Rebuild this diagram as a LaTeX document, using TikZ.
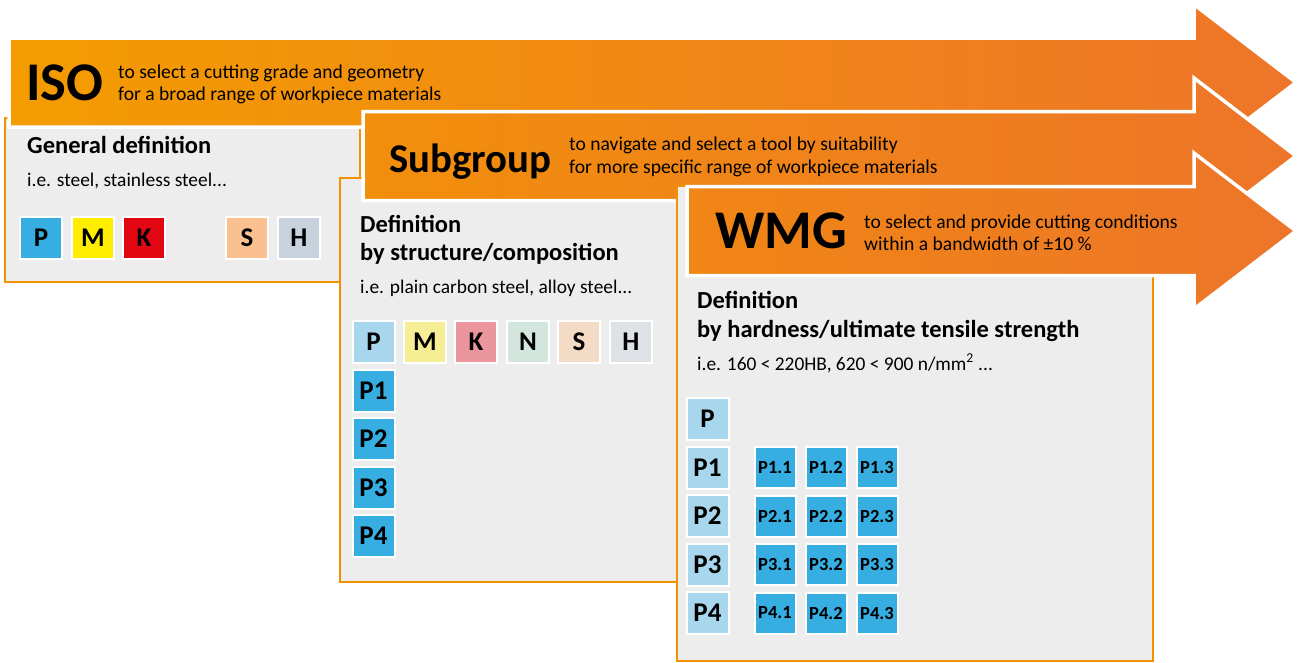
\documentclass[tikz,border=0pt]{standalone}
\usepackage{fontspec}
\setmainfont{Carlito}
\definecolor{orA}{RGB}{244,156,0}
\definecolor{orB}{RGB}{237,117,41}
\definecolor{orA2}{RGB}{242,143,12}
\definecolor{orA3}{RGB}{240,134,20}
\definecolor{panelorange}{RGB}{243,146,0}
\definecolor{panelgray}{RGB}{237,237,237}
\definecolor{pblue}{RGB}{54,174,226}
\definecolor{myellow}{RGB}{255,237,0}
\definecolor{kred}{RGB}{227,6,19}
\definecolor{speach}{RGB}{250,192,144}
\definecolor{hgray}{RGB}{200,210,220}
\definecolor{paleP}{RGB}{168,214,236}
\definecolor{paleM}{RGB}{246,238,148}
\definecolor{paleK}{RGB}{234,150,156}
\definecolor{paleN}{RGB}{211,230,221}
\definecolor{paleS}{RGB}{244,219,198}
\definecolor{paleH}{RGB}{222,225,230}
\begin{document}
\begin{tikzpicture}[x=1pt,y=-1pt,
  panel/.style={draw=panelorange, line width=2pt, fill=panelgray},
  arrowshape/.style={draw=white, line width=3.5pt, line join=miter},
  tile/.style={draw=white, line width=2pt, minimum size=42pt, inner sep=0pt, font=\bfseries\fontsize{27}{27}\selectfont},
  subtile/.style={tile, minimum size=41pt, fill=pblue, font=\bfseries\fontsize{18.5}{18.5}\selectfont},
  bigtitle/.style={anchor=base west, inner sep=0pt, font=\bfseries\fontsize{54.5}{54.5}\selectfont},
  midtitle/.style={anchor=base west, inner sep=0pt, font=\bfseries\fontsize{40.8}{40.8}\selectfont},
  subtext/.style={anchor=base west, inner sep=0pt, font=\fontsize{19.6}{19.6}\selectfont},
  headtext/.style={anchor=base west, inner sep=0pt, font=\bfseries\fontsize{24.5}{24.5}\selectfont},
  notetext/.style={anchor=base west, inner sep=0pt, font=\fontsize{19.4}{19.4}\selectfont}
]
\useasboundingbox (0,0) rectangle (1299,662);

% ---------- panel 1 and ISO arrow
\draw[panel] (5,118) rectangle (360,282);
\shadedraw[arrowshape, left color=orA, right color=orB]
  (9,38) -- (1194,38) -- (1194,4.5) -- (1296,82.5) -- (1194,160.5) -- (1194,127) -- (9,127) -- cycle;
\node[bigtitle] (iso) at (26,100) {ISO};
\node[subtext] (iso1) at (118,78) {to select a cutting grade and geometry};
\node[subtext] (iso2) at (118,100) {for a broad range of workpiece materials};
\node[headtext] (gen) at (27,153) {General definition};
\node[notetext] (gen2) at (27,186) {i.e. steel, stainless steel...};
\node[tile, fill=pblue] (iP) at (41,238) {P};
\node[tile, fill=myellow] (iM) at (93,238) {M};
\node[tile, fill=kred] (iK) at (144,238) {K};
\node[tile, fill=speach] (iS) at (247,238) {S};
\node[tile, fill=hgray] (iH) at (299,238) {H};

% ---------- panel 2 and Subgroup arrow
\draw[panel] (340,178) rectangle (690,582);
\shadedraw[arrowshape, left color=orA2, right color=orB]
  (363,111.5) -- (1194,111.5) -- (1194,78) -- (1296,156) -- (1194,234) -- (1194,200.5) -- (363,200.5) -- cycle;
\node[midtitle] (sg) at (389,172) {Subgroup};
\node[subtext] (sg1) at (569,150) {to navigate and select a tool by suitability};
\node[subtext] (sg2) at (569,173) {for more specific range of workpiece materials};
\node[headtext] (d2a) at (360,232) {Definition};
\node[headtext] (d2b) at (360,260) {by structure/composition};
\node[notetext] (d2c) at (360,293) {i.e. plain carbon steel, alloy steel...};
\node[tile, fill=paleP] (sP) at (373.5,341.5) {P};
\node[tile, fill=paleM] (sM) at (425,341.5) {M};
\node[tile, fill=paleK] (sK) at (476,341.5) {K};
\node[tile, fill=paleN] (sN) at (528,341.5) {N};
\node[tile, fill=paleS] (sS) at (579,341.5) {S};
\node[tile, fill=paleH] (sH) at (631,341.5) {H};
\node[tile, fill=pblue] (sP1) at (373.5,390.5) {P1};
\node[tile, fill=pblue] (sP2) at (373.5,438.5) {P2};
\node[tile, fill=pblue] (sP3) at (373.5,487.5) {P3};
\node[tile, fill=pblue] (sP4) at (373.5,535.5) {P4};

% ---------- panel 3 and WMG arrow
\draw[panel] (677,186) rectangle (1153,661);
\shadedraw[arrowshape, left color=orA3, right color=orB]
  (687,186.5) -- (1194,186.5) -- (1194,153) -- (1296,231) -- (1194,309) -- (1194,275.5) -- (687,275.5) -- cycle;
\node[bigtitle] (wmg) at (715,248) {WMG};
\node[subtext] (w1) at (864,228) {to select and provide cutting conditions};
\node[subtext] (w2) at (864,250) {within a bandwidth of ±10 \%};
\node[headtext] (d3a) at (697,308) {Definition};
\node[headtext] (d3b) at (697,337) {by hardness/ultimate tensile strength};
\node[notetext] (d3c) at (697,370) {i.e. 160 < 220HB, 620 < 900 n/mm\textsuperscript{2} ...};
\node[tile, fill=paleP] (wP) at (707.5,418.5) {P};
\node[tile, fill=paleP] (wP1) at (707.5,467.5) {P1};
\node[tile, fill=paleP] (wP2) at (707.5,516) {P2};
\node[tile, fill=paleP] (wP3) at (707.5,564.5) {P3};
\node[tile, fill=paleP] (wP4) at (707.5,613) {P4};
\foreach \r/\y in {1/467.5,2/516,3/564.5,4/613}{
  \foreach \c/\x in {1/775,2/826,3/877}{
    \node[subtile] (w\r\c) at (\x,\y) {P\r.\c};
  }
}
\end{tikzpicture}
\end{document}
